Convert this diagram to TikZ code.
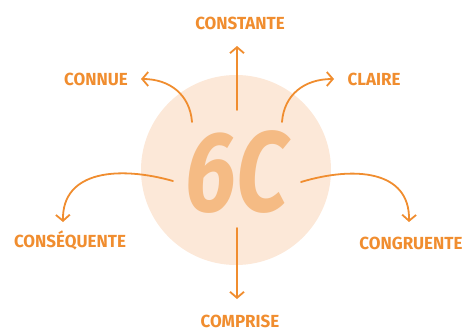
\documentclass[tikz,border=0pt]{standalone}
\usepackage{fontspec}
\setmainfont{Fira Sans}
\usetikzlibrary{arrows.meta}
\definecolor{org}{HTML}{F08D2F}
\definecolor{disc}{HTML}{FCE8D8}
\definecolor{big}{HTML}{F5BB84}
\tikzset{
  conn/.style={draw=org, line width=1.8pt, line cap=round,
    -{Straight Barb[length=6pt,width=14pt,line width=1.8pt]}},
  lab/.style={text=org, font=\bfseries\fontsize{17.5}{17.5}\selectfont, inner sep=0pt}
}
\begin{document}
\begin{tikzpicture}[x=1pt,y=-1pt]
\useasboundingbox (0,0) rectangle (467,332);
\fill[disc] (236,170) circle (95);
\node[text=big, inner sep=0pt] (six) at (237,172) {\scalebox{0.8}[1]{\bfseries\itshape\fontsize{114}{114}\selectfont 6C}};
\coordinate (sU) at (237,110);
\coordinate (tU) at (237,46);
\coordinate (sD) at (237,228);
\coordinate (tD) at (237,299);
\coordinate (sNW) at (192,122);
\coordinate (tNW) at (141,79);
\coordinate (sNE) at (282,122);
\coordinate (tNE) at (334,79);
\coordinate (sW) at (173,181);
\coordinate (tW) at (63,222);
\coordinate (sE) at (301,182);
\coordinate (tE) at (409,222);
\draw[conn] (sU) -- (tU);
\draw[conn] (sD) -- (tD);
\draw[conn] (sNW) .. controls (190,95) and (170,79) .. (tNW);
\draw[conn] (sNE) .. controls (284,95) and (304,79) .. (tNE);
\draw[conn] (sW) .. controls (120,166) and (62,170) .. (tW);
\draw[conn] (sE) .. controls (354,166) and (410,170) .. (tE);
\node[lab] (constante) at (240,23) {\scalebox{0.97}[1]{CONSTANTE}};
\node[lab] (connue) at (96,79) {\scalebox{0.97}[1]{CONNUE}};
\node[lab] (claire) at (374,79) {\scalebox{0.97}[1]{CLAIRE}};
\node[lab] (consequente) at (70,240) {\scalebox{0.97}[1]{CONSÉQUENTE}};
\node[lab] (congruente) at (411,243) {\scalebox{0.97}[1]{CONGRUENTE}};
\node[lab] (comprise) at (240,321) {\scalebox{0.97}[1]{COMPRISE}};
\end{tikzpicture}
\end{document}
